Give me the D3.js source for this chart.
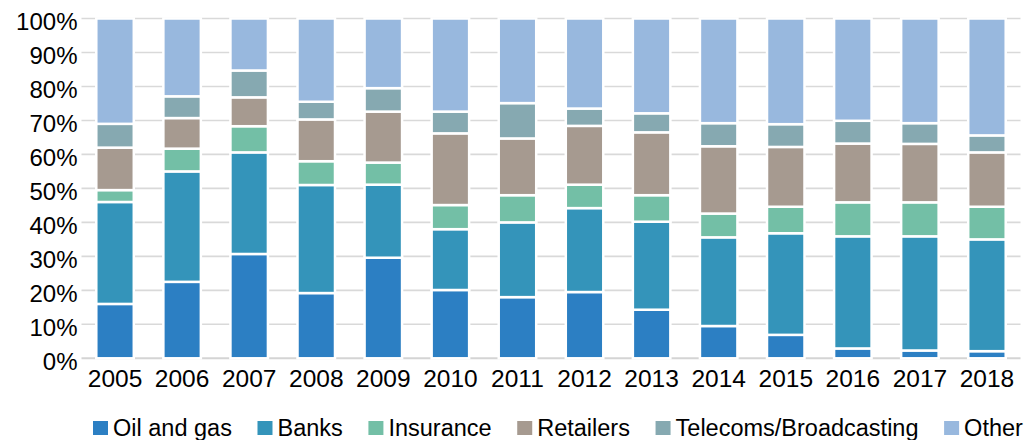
<!DOCTYPE html>
<html>
<head>
<meta charset="utf-8">
<script src="https://cdn.jsdelivr.net/npm/d3@7"></script>
<style>
  html, body { margin: 0; padding: 0; background: #fff; }
  svg { display: block; font-family: "Liberation Sans", Arial, sans-serif; }
</style>
</head>
<body>
<svg id="chart" width="1029" height="440"></svg>
<script>
// Share of total by sector, per year (percent)
const years = ["2005","2006","2007","2008","2009","2010","2011","2012","2013","2014","2015","2016","2017","2018"];
const sectors = ["Oil and gas","Banks","Insurance","Retailers","Telecoms/Broadcasting","Other"];
const oilAndGas  = [16.0, 22.5, 30.7, 19.2, 29.6, 20.1, 18.0, 19.5, 14.3,  9.5,  6.9,  2.9,  2.3,  2.1];
const banks      = [30.0, 32.5, 29.9, 31.8, 21.5, 17.9, 22.0, 24.7, 25.9, 26.1, 29.9, 33.0, 33.6, 32.9];
const insurance  = [ 3.5,  6.7,  7.7,  7.0,  6.5,  7.1,  8.0,  6.9,  7.8,  7.0,  7.8, 10.0, 10.0,  9.6];
const retailers  = [12.5,  9.0,  8.5, 12.3, 15.0, 21.1, 16.7, 17.3, 18.5, 19.8, 17.6, 17.3, 17.2, 16.0];
const telecoms   = [ 7.0,  6.4,  7.9,  5.2,  6.9,  6.4, 10.4,  5.1,  5.6,  6.8,  6.7,  6.7,  6.1,  5.0];
const other      = [31.0, 22.9, 15.3, 24.5, 20.5, 27.4, 24.9, 26.5, 27.9, 30.8, 31.1, 30.1, 30.8, 34.4];
const yTicks = [0, 10, 20, 30, 40, 50, 60, 70, 80, 90, 100];
const colors = ["#2c7fc3", "#3494ba", "#73bfa6", "#a69a90", "#86a9b1", "#98b8de"];

const seriesValues = [oilAndGas, banks, insurance, retailers, telecoms, other];
const rows = years.map((y, i) => {
  const r = { year: y };
  sectors.forEach((s, k) => { r[s] = seriesValues[k][i]; });
  return r;
});
const stacked = d3.stack().keys(sectors)(rows);

const svg = d3.select("#chart");
const x = d3.scaleBand().domain(years).range([81.5, 1020.5]).paddingInner(0.441).paddingOuter(0.2205);
const y = d3.scaleLinear().domain([0, 100]).range([358.3, 18.5]);
const color = d3.scaleOrdinal().domain(sectors).range(colors);

// Horizontal gridlines
svg.append("g").selectAll("line").data(yTicks.filter(t => t > 0)).join("line")
  .attr("x1", 81.5).attr("x2", 1020.5)
  .attr("y1", d => y(d)).attr("y2", d => y(d))
  .attr("stroke", "#d9d9d9").attr("stroke-width", 1.6);

// Baseline
svg.append("line")
  .attr("x1", 81.5).attr("x2", 1020.5)
  .attr("y1", y(0)).attr("y2", y(0))
  .attr("stroke", "#d4d4d4").attr("stroke-width", 2);

// Stacked bars
svg.append("g").selectAll("g").data(stacked).join("g")
  .attr("fill", d => color(d.key))
  .selectAll("rect").data(d => d).join("rect")
  .attr("x", d => x(d.data.year))
  .attr("width", x.bandwidth())
  .attr("y", d => y(d[1]))
  .attr("height", d => y(d[0]) - y(d[1]))
  .attr("stroke", "#fff").attr("stroke-width", 2.5);

// Y axis labels
const yAxis = svg.append("g").attr("transform", "translate(77.5,0)")
  .call(d3.axisLeft(y).tickValues(yTicks).tickFormat(d => d + "%").tickSize(0).tickPadding(0));
yAxis.select(".domain").remove();
yAxis.selectAll("text").attr("font-size", 24).attr("fill", "#000")
  .attr("font-family", "Liberation Sans, Arial, sans-serif").attr("dy", "0.45em");

// X axis labels
const xAxis = svg.append("g").attr("transform", "translate(0," + y(0) + ")")
  .call(d3.axisBottom(x).tickSize(0).tickPadding(0));
xAxis.select(".domain").remove();
xAxis.selectAll("text").attr("font-size", 24.5).attr("fill", "#000")
  .attr("font-family", "Liberation Sans, Arial, sans-serif")
  .attr("dy", null).attr("y", 28.4);

// Legend
const legend = svg.append("g");
let lx = 93;
sectors.forEach(s => {
  const item = legend.append("g").attr("transform", "translate(" + lx + ",0)");
  item.append("rect").attr("x", 0).attr("y", 421).attr("width", 15).attr("height", 14).attr("fill", color(s));
  const t = item.append("text").attr("x", 20).attr("y", 436).attr("font-size", 23.5).attr("fill", "#000").text(s);
  lx += 20 + t.node().getComputedTextLength() + 25.6;
});
</script>
</body>
</html>
